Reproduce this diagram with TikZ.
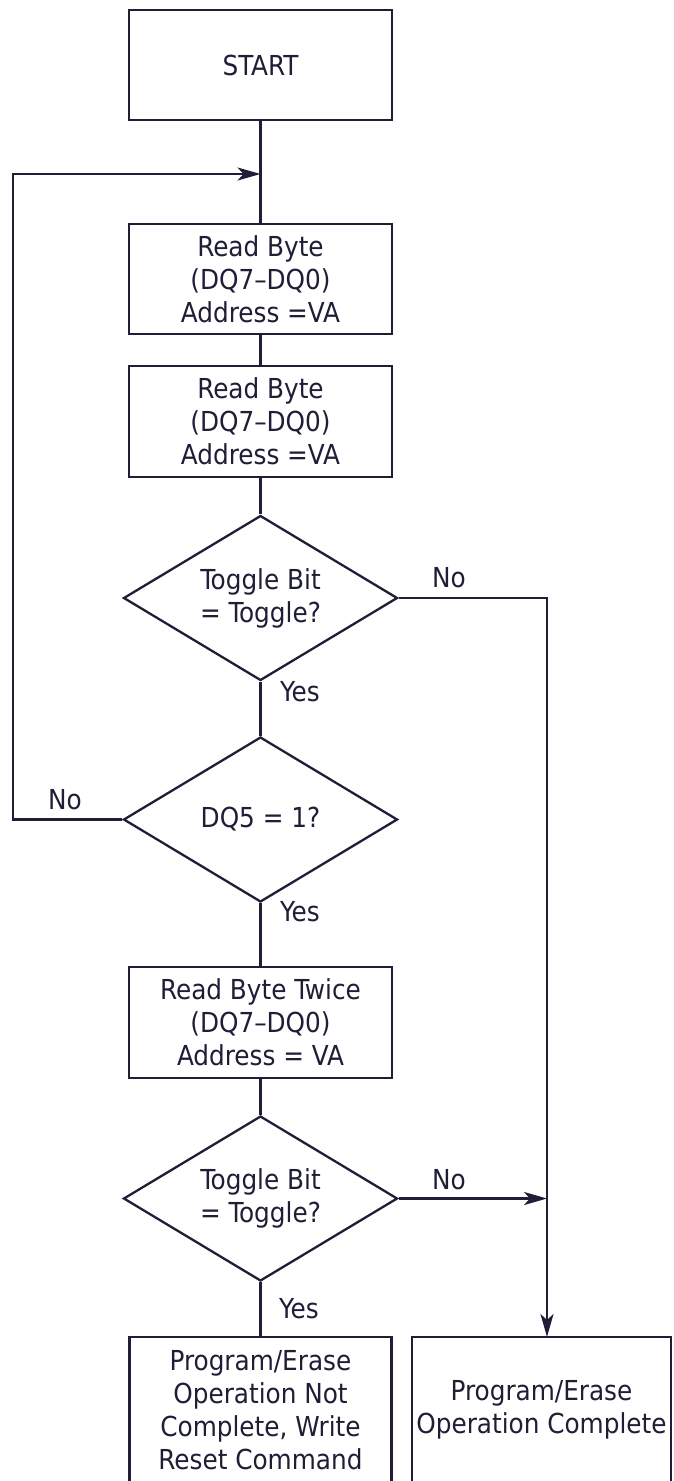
\documentclass[tikz,border=0pt]{standalone}
\usepackage{fontspec}
\setmainfont{DejaVu Sans Condensed}
\usetikzlibrary{shapes.geometric,arrows.meta}
\definecolor{ink}{RGB}{30,30,55}
\begin{document}
\begin{tikzpicture}[x=1pt,y=-1pt,
  font=\fontsize{27.5}{33}\selectfont,
  every node/.style={text=ink},
  box/.style={draw=ink, line width=2.3pt, minimum width=263pt, minimum height=110pt, inner sep=0pt, align=center},
  dec/.style={diamond, draw=ink, line width=2.3pt, minimum width=274pt, minimum height=165pt, inner sep=0pt, aspect=1.66, align=center},
  lbl/.style={inner sep=0pt},
  conn/.style={draw=ink, line width=2.3pt},
  arr/.style={conn, -{Stealth[length=23pt,width=13pt,inset=6pt]}}]
\useasboundingbox (0,0) rectangle (673,1481);
\fill[white] (0,0) rectangle (673,1481);
% nodes
\node[box] (start) at (260.5,65) {\raisebox{-7pt}{START}};
\node[box] (rb1) at (260.5,279) {Read Byte\\(DQ7--DQ0)\\Address =VA};
\node[box, minimum height=111pt] (rb2) at (260.5,421.5) {Read Byte\\(DQ7--DQ0)\\Address =VA};
\node[dec] (d1) at (260.5,598) {Toggle Bit\\= Toggle?};
\node[dec] (d2) at (260.5,819.5) {DQ5 = 1?};
\node[box, minimum height=111pt] (rb3) at (260.5,1022.5) {Read Byte Twice\\(DQ7--DQ0)\\Address = VA};
\node[dec] (d3) at (260.5,1198.5) {Toggle Bit\\= Toggle?};
\node[box, minimum width=262pt, minimum height=146pt] (nc) at (260.5,1410) {Program/Erase\\Operation Not\\Complete, Write\\Reset Command};
\node[box, minimum width=259pt, minimum height=146pt] (done) at (541.5,1410) {Program/Erase\\Operation Complete};
% labels
\node[lbl] (no1) at (449,578) {No};
\node[lbl] (yes1) at (300,692) {Yes};
\node[lbl] (no2) at (65,800) {No};
\node[lbl] (yes2) at (300,912) {Yes};
\node[lbl] (no3) at (449,1180) {No};
\node[lbl] (yes3) at (299,1309) {Yes};
% helper coordinates
\coordinate (jn) at (260.5,174);
\coordinate (lc) at (13,174);
\coordinate (rt) at (547,1337);
% connectors
\draw[conn] (start.south) -- (rb1.north);
\draw[conn] (rb1.south) -- (rb2.north);
\draw[conn] (rb2.south) -- (d1.north);
\draw[conn] (d1.south) -- (d2.north);
\draw[conn] (d2.south) -- (rb3.north);
\draw[conn] (rb3.south) -- (d3.north);
\draw[conn] (d3.south) -- (nc.north);
\draw[arr] (d2.west) -- (d2.west -| lc) -- (lc) -- (jn);
\draw[arr] (d1.east) -| (rt);
\draw[arr] (d3.east) -- (d3.east -| rt);
\end{tikzpicture}
\end{document}
